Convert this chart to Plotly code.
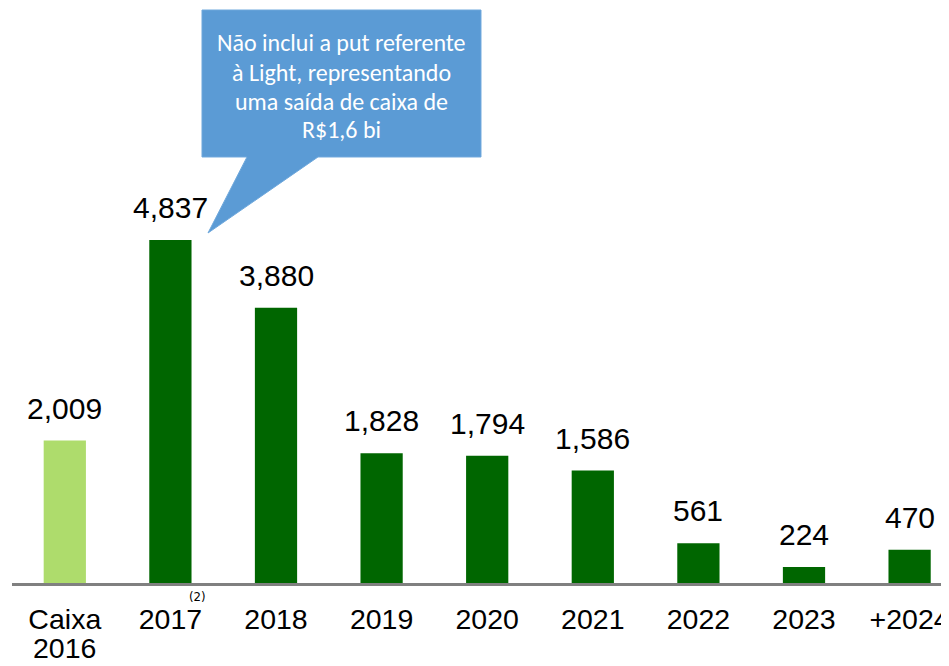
import plotly.graph_objects as go

tick_labels = ["Caixa", "2017", "2018", "2019", "2020", "2021", "2022", "2023", "+2024"]
tick_second_line = ["2016", "", "", "", "", "", "", "", ""]
values = [2009, 4837, 3880, 1828, 1794, 1586, 561, 224, 470]
bar_colors = ["#AEDC6C"] + ["#006600"] * 8
callout_lines = ["Não inclui a put referente", "à Light, representando", "uma saída de caixa de", "R$1,6 bi"]

OFF = 8  # default body margin of the page
W, H = 949, 666
# target plot area in viewport pixels: left 12, right 949, bottom 583, top 0
L = 12 - OFF
R = W - (949 - OFF)
B = H - (583 - OFF)
T = 0
pw, ph = W - L - R, H - T - B
PX_PER_UNIT = 343 / 4837
LABEL_FONT = "Liberation Sans, Arial"


def px(x):
    return (x - OFF - L) / pw


def py(y):
    return (H - B - (y - OFF)) / ph


fig = go.Figure()
fig.add_trace(go.Bar(
    x=list(range(len(tick_labels))), y=values,
    marker=dict(color=bar_colors, line=dict(width=0)),
    width=0.4, hoverinfo="skip",
))

for i, v in enumerate(values):
    fig.add_annotation(x=i, y=v, text=f"{v:,}", showarrow=False, xref="x", yref="y",
                       xanchor="center", yanchor="bottom", yshift=14,
                       font=dict(family=LABEL_FONT, size=30, color="black"))

for i, t in enumerate(tick_second_line):
    if t:
        fig.add_annotation(x=i, y=py(648), xref="x", yref="paper", text=t, showarrow=False,
                           xanchor="center", yanchor="middle",
                           font=dict(family=LABEL_FONT, size=28.5, color="black"))

# superscript (2) next to 2017
fig.add_annotation(x=px(197), y=py(596), xref="paper", yref="paper", text="(2)", showarrow=False,
                   xanchor="center", yanchor="middle",
                   font=dict(family="DejaVu Sans Condensed, Liberation Sans", size=13, color="black"))

# callout bubble
pts = [(202, 10), (481, 10), (481, 157), (318, 157), (208, 233), (247, 157), (202, 157)]
path = "M " + " L ".join(f"{px(a):.5f},{py(b):.5f}" for a, b in pts) + " Z"
fig.add_shape(type="path", path=path, xref="paper", yref="paper",
              fillcolor="#5B9BD5", line=dict(color="#6FA8DC", width=1), layer="above")

for k, line in enumerate(callout_lines):
    fig.add_annotation(x=px(341), y=py(43 + k * 29), xref="paper", yref="paper", text=line,
                       showarrow=False, xanchor="center", yanchor="middle",
                       font=dict(family="Carlito, Lato, Noto Sans", size=24, color="white"))

fig.update_layout(
    width=W, height=H,
    margin=dict(l=L, r=R, t=T, b=B, autoexpand=False),
    plot_bgcolor="white", paper_bgcolor="white",
    showlegend=False,
    xaxis=dict(
        tickmode="array", tickvals=list(range(len(tick_labels))), ticktext=tick_labels,
        range=[-0.5, -0.5 + pw / 105.6], automargin=False, ticklabeloverflow="allow",
        showline=True, linecolor="#808080", linewidth=3,
        showgrid=False, zeroline=False, ticks="", ticklabelstandoff=9,
        tickfont=dict(family=LABEL_FONT, size=28.5, color="black"),
    ),
    yaxis=dict(range=[0, ph / PX_PER_UNIT], visible=False, showgrid=False, zeroline=False,
               automargin=False),
)

fig.write_html("out.html")
